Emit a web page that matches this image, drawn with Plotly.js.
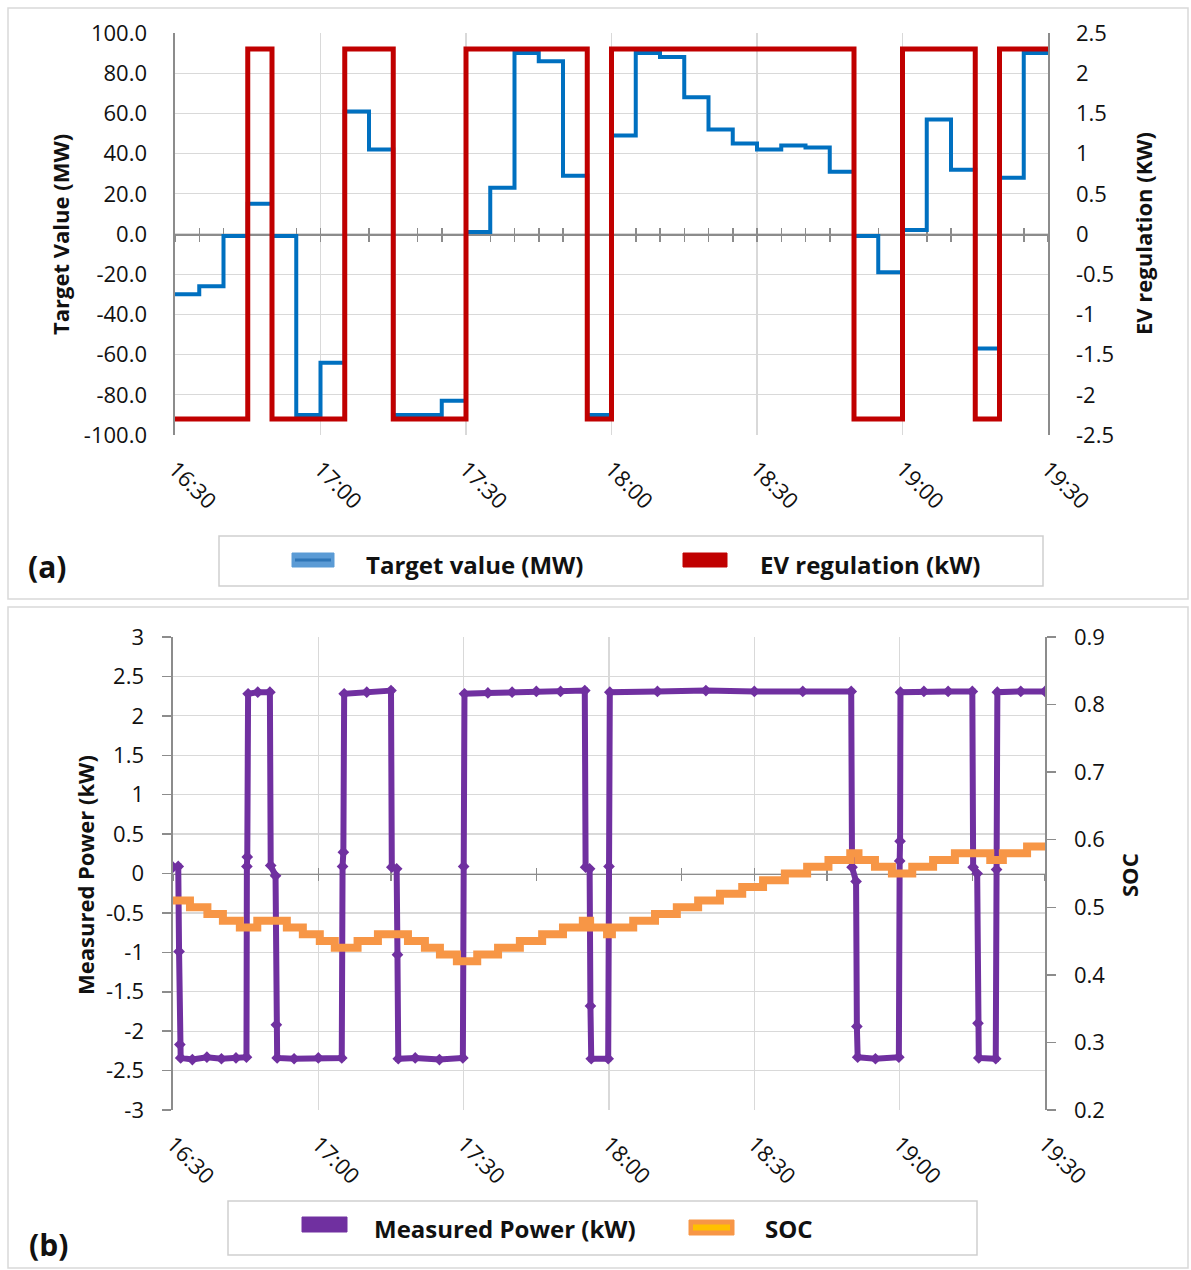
<!DOCTYPE html>
<html>
<head>
<meta charset="utf-8">
<script src="https://cdn.plot.ly/plotly-3.0.1.min.js"></script>
<style>
  html, body { margin: 0; padding: 0; background: #ffffff; }
  #chart { width: 1191px; height: 1270px; }
</style>
</head>
<body>
<div id="chart"></div>
<script>
// ---- Panel (a): 5-minute regulation intervals ----
const slotTimes = ["16:30","16:35","16:40","16:45","16:50","16:55","17:00","17:05","17:10","17:15","17:20","17:25",
                   "17:30","17:35","17:40","17:45","17:50","17:55","18:00","18:05","18:10","18:15","18:20","18:25",
                   "18:30","18:35","18:40","18:45","18:50","18:55","19:00","19:05","19:10","19:15","19:20","19:25"];
const targetMW = [-30, -26, -1, 15, -1, -90, -64, 61, 42, -90, -90, -83,
                  1, 23, 90, 86, 29, -90, 49, 90, 88, 68, 52, 45,
                  42, 44, 43, 31, -1, -19, 2, 57, 32, -57, 28, 90];
const evRegulationKW = [-2.3, -2.3, -2.3, 2.3, -2.3, -2.3, -2.3, 2.3, 2.3, -2.3, -2.3, -2.3,
                        2.3, 2.3, 2.3, 2.3, 2.3, -2.3, 2.3, 2.3, 2.3, 2.3, 2.3, 2.3,
                        2.3, 2.3, 2.3, 2.3, -2.3, -2.3, 2.3, 2.3, 2.3, -2.3, 2.3, 2.3];
const endTime = "19:30";

// ---- Panel (b): measured charger power ----
const mpTimes = ["16:30:00","16:31:05","16:31:15","16:31:25","16:31:35",
                 "16:34:00","16:37:00","16:40:00","16:43:00","16:45:10",
                 "16:45:15","16:45:20","16:45:30",
                 "16:47:30","16:50:00",
                 "16:50:10","16:51:10","16:51:20","16:51:30",
                 "16:55:00","17:00:00","17:04:50",
                 "17:05:00","17:05:10","17:05:20",
                 "17:10:00","17:15:00",
                 "17:15:10","17:16:10","17:16:20","17:16:30",
                 "17:20:00","17:25:00","17:29:50",
                 "17:30:00","17:30:10",
                 "17:35:00","17:40:00","17:45:00","17:50:00","17:55:00",
                 "17:55:10","17:56:00","17:56:10","17:56:20",
                 "17:59:50",
                 "18:00:00","18:00:10",
                 "18:10:00","18:20:00","18:30:00","18:40:00","18:50:00",
                 "18:50:10","18:51:00","18:51:10","18:51:20",
                 "18:55:00","18:59:50",
                 "19:00:00","19:00:05","19:00:10",
                 "19:05:00","19:10:00","19:15:00",
                 "19:15:10","19:16:00","19:16:10","19:16:20",
                 "19:19:50",
                 "19:20:00","19:20:10",
                 "19:25:00","19:30:00"];
const mpKW = [0.08, 0.09, -0.99, -2.17, -2.34,
              -2.36, -2.33, -2.35, -2.34, -2.33,
              0.09, 0.21, 2.28,
              2.30, 2.30,
              0.10, -0.03, -1.92, -2.34,
              -2.35, -2.34, -2.34,
              0.09, 0.27, 2.28,
              2.30, 2.32,
              0.08, 0.06, -1.03, -2.35,
              -2.34, -2.36, -2.34,
              0.09, 2.28,
              2.29, 2.30, 2.31, 2.31, 2.32,
              0.08, 0.06, -1.68, -2.35,
              -2.35,
              0.09, 2.30,
              2.31, 2.32, 2.31, 2.31, 2.31,
              0.08, -0.10, -1.94, -2.33,
              -2.35, -2.33,
              0.16, 0.41, 2.30,
              2.31, 2.31, 2.31,
              0.08, 0.00, -1.90, -2.34,
              -2.35,
              0.05, 2.30,
              2.31, 2.31];

// ---- Panel (b): battery state of charge (value holds until next time) ----
const socTimes = ["16:30:00","16:33:30","16:37:06","16:40:18","16:43:48","16:47:24","16:53:30","16:56:48","17:00:18",
                  "17:03:24","17:08:06","17:12:18","17:18:30","17:22:00","17:25:06","17:28:36","17:32:48","17:37:06",
                  "17:41:36","17:46:12","17:50:30","17:54:36","17:56:06","17:59:36","18:00:36","18:05:00","18:09:30",
                  "18:14:00","18:18:24","18:22:54","18:27:30","18:31:48","18:36:18","18:40:54","18:45:18","18:49:48",
                  "18:51:30","18:54:54","18:58:24","19:02:36","19:06:54","19:11:24","19:18:42","19:21:18","19:26:18"];
const socValues = [0.51, 0.50, 0.49, 0.48, 0.47, 0.48, 0.47, 0.46, 0.45,
                   0.44, 0.45, 0.46, 0.45, 0.44, 0.43, 0.42, 0.43, 0.44,
                   0.45, 0.46, 0.47, 0.48, 0.47, 0.46, 0.47, 0.48, 0.49,
                   0.50, 0.51, 0.52, 0.53, 0.54, 0.55, 0.56, 0.57, 0.58,
                   0.57, 0.56, 0.55, 0.56, 0.57, 0.58, 0.57, 0.58, 0.59];

// ---- Axis tick labels ----
const timeTicks = ["16:30","17:00","17:30","18:00","18:30","19:00","19:30"];
const targetTicks = [-100, -80, -60, -40, -20, 0, 20, 40, 60, 80, 100];
const evTicks = [-2.5, -2, -1.5, -1, -0.5, 0, 0.5, 1, 1.5, 2, 2.5];
const powerTicks = [-3, -2.5, -2, -1.5, -1, -0.5, 0, 0.5, 1, 1.5, 2, 2.5, 3];
const socTicks = [0.2, 0.3, 0.4, 0.5, 0.6, 0.7, 0.8, 0.9];

// ---- helpers ----
const W = 1191, H = 1270;
const px = v => v / W;
const py = v => 1 - v / H;
const day = t => "2000-01-01 " + (t.length === 5 ? t + ":00" : t);
const FONT = "Open Sans, Noto Sans, Arial, sans-serif";
const GRID = "#d9d9d9";
const AXIS = "#8c8c8c";
const TXT = "#111111";

const timeRange = [day(timeTicks[0]), day(timeTicks[timeTicks.length - 1])];

// step series end at the right edge of the last interval
const stepX = slotTimes.concat([endTime]).map(day);
const stepY = arr => arr.concat([arr[arr.length - 1]]);
const socX = socTimes.concat([endTime]).map(day);

const traces = [
  { x: stepX, y: stepY(targetMW), xaxis: "x", yaxis: "y", type: "scatter", mode: "lines",
    line: { shape: "hv", color: "#0070c0", width: 4 }, name: "Target value (MW)", hoverinfo: "skip" },
  { x: stepX, y: stepY(evRegulationKW), xaxis: "x", yaxis: "y2", type: "scatter", mode: "lines",
    line: { shape: "hv", color: "#c00000", width: 5 }, name: "EV regulation (kW)", hoverinfo: "skip" },
  { x: mpTimes.map(day), y: mpKW, xaxis: "x2", yaxis: "y3", type: "scatter", mode: "lines+markers",
    line: { color: "#7030a0", width: 6 }, marker: { symbol: "diamond", size: 9, color: "#7030a0" },
    name: "Measured Power (kW)", hoverinfo: "skip" },
  { x: socX, y: stepY(socValues), xaxis: "x2", yaxis: "y4", type: "scatter", mode: "lines",
    line: { shape: "hv", color: "#f79646", width: 8 }, name: "SOC", hoverinfo: "skip" },
  // carriers for the tick-marked zero lines
  { x: [], y: [], xaxis: "x3", yaxis: "y", hoverinfo: "skip" },
  { x: [], y: [], xaxis: "x4", yaxis: "y", hoverinfo: "skip" },
  { x: [], y: [], xaxis: "x5", yaxis: "y3", hoverinfo: "skip" },
  { x: [], y: [], xaxis: "x6", yaxis: "y3", hoverinfo: "skip" }
];

const tickFont = { family: FONT, size: 22, color: TXT };

function timeAxis(domain, anchor) {
  return {
    type: "date", domain: domain, anchor: anchor, range: timeRange,
    tickmode: "array", tickvals: timeTicks.map(day), ticktext: timeTicks,
    tickangle: 45, tickfont: tickFont, ticklabelstandoff: 16,
    showgrid: true, gridcolor: GRID, gridwidth: 1.3,
    showline: false, ticks: "", zeroline: false, fixedrange: true
  };
}
function valueAxis(domain, anchor, range, vals, fmt, extra) {
  return Object.assign({
    domain: domain, anchor: anchor, range: range,
    tickmode: "array", tickvals: vals, ticktext: vals.map(fmt), tickfont: tickFont,
    showgrid: true, gridcolor: GRID, gridwidth: 1.3,
    showline: true, linecolor: AXIS, linewidth: 1.6,
    zeroline: false, fixedrange: true
  }, extra);
}
function zeroAxis(over, pos, stepMin, dir) {
  return {
    type: "date", overlaying: over, anchor: "free", position: pos, range: timeRange,
    tickmode: "linear", tick0: day(timeTicks[0]), dtick: stepMin * 60000,
    ticks: dir, ticklen: 6, tickwidth: 1.5, tickcolor: AXIS,
    showline: true, linecolor: AXIS, linewidth: 1.6,
    showticklabels: false, showgrid: false, zeroline: false,
    layer: "below traces", fixedrange: true
  };
}

const domXA = [px(175), px(1048)], domYA = [py(435), py(33)];
const domXB = [px(173), px(1045)], domYB = [py(1110), py(637)];

const layout = {
  width: W, height: H,
  margin: { l: 0, r: 0, t: 0, b: 0 },
  paper_bgcolor: "#ffffff", plot_bgcolor: "rgba(0,0,0,0)",
  showlegend: false,
  font: { family: FONT, color: TXT },
  xaxis: timeAxis(domXA, "y"),
  yaxis: valueAxis(domYA, "x", [-100, 100], targetTicks, v => v.toFixed(1),
                   { ticks: "", ticklabelstandoff: 22 }),
  yaxis2: valueAxis(domYA, "x", [-2.5, 2.5], evTicks, v => String(v),
                    { overlaying: "y", side: "right", showgrid: false, ticks: "", ticklabelstandoff: 22 }),
  xaxis3: zeroAxis("x", py(234), 5, "outside"),
  xaxis4: zeroAxis("x", py(234), 5, "inside"),

  xaxis2: timeAxis(domXB, "y3"),
  yaxis3: valueAxis(domYB, "x2", [-3, 3], powerTicks, v => String(v),
                    { ticks: "outside", ticklen: 9, tickwidth: 1.5, tickcolor: AXIS, ticklabelstandoff: 14 }),
  yaxis4: valueAxis(domYB, "x2", [0.2, 0.9], socTicks, v => v.toFixed(1),
                    { overlaying: "y3", side: "right", showgrid: false,
                      ticks: "outside", ticklen: 9, tickwidth: 1.5, tickcolor: AXIS, ticklabelstandoff: 14 }),
  xaxis5: zeroAxis("x2", py(873.5), 15, "outside"),
  xaxis6: zeroAxis("x2", py(873.5), 15, "inside"),

  shapes: [
    // panel frames
    { type: "rect", xref: "paper", yref: "paper", x0: px(8), x1: px(1188), y0: py(599), y1: py(8),
      line: { color: GRID, width: 1.5 }, layer: "below" },
    { type: "rect", xref: "paper", yref: "paper", x0: px(8), x1: px(1188), y0: py(1268), y1: py(607),
      line: { color: GRID, width: 1.5 }, layer: "below" },
    // legend boxes
    { type: "rect", xref: "paper", yref: "paper", x0: px(219), x1: px(1043), y0: py(586), y1: py(536),
      line: { color: "#cfcfcf", width: 1.5 } },
    { type: "rect", xref: "paper", yref: "paper", x0: px(228), x1: px(977), y0: py(1255), y1: py(1201),
      line: { color: "#cfcfcf", width: 1.5 } },
    // legend keys
    { type: "rect", xref: "paper", yref: "paper", x0: px(292), x1: px(334), y0: py(567), y1: py(553),
      fillcolor: "#5b9bd5", line: { color: "#5b9bd5", width: 1 } },
    { type: "line", xref: "paper", yref: "paper", x0: px(295), x1: px(331), y0: py(560), y1: py(560),
      line: { color: "#2e75b6", width: 3 } },
    { type: "rect", xref: "paper", yref: "paper", x0: px(683), x1: px(727), y0: py(567), y1: py(553),
      fillcolor: "#c00000", line: { color: "#c00000", width: 1 } },
    { type: "rect", xref: "paper", yref: "paper", x0: px(302), x1: px(347), y0: py(1232), y1: py(1217),
      fillcolor: "#7030a0", line: { color: "#7030a0", width: 1 } },
    { type: "rect", xref: "paper", yref: "paper", x0: px(689), x1: px(734), y0: py(1235), y1: py(1220),
      fillcolor: "#f79646", line: { color: "#f79646", width: 1 } },
    { type: "rect", xref: "paper", yref: "paper", x0: px(693), x1: px(730), y0: py(1230.5), y1: py(1224.5),
      fillcolor: "#ffc000", line: { width: 0 } }
  ],

  annotations: [
    { text: "<b>Target Value (MW)</b>", x: px(60), y: py(235), textangle: -90, font: { size: 22 } },
    { text: "<b>EV regulation (KW)</b>", x: px(1143), y: py(234), textangle: -90, font: { size: 22 } },
    { text: "<b>Measured Power (kW)</b>", x: px(85), y: py(875), textangle: -90, font: { size: 22 } },
    { text: "<b>SOC</b>", x: px(1129), y: py(875), textangle: -90, font: { size: 22 } },
    { text: "<b>(a)</b>", x: px(47), y: py(566), font: { size: 30 } },
    { text: "<b>(b)</b>", x: px(48), y: py(1244), font: { size: 30 } },
    { text: "<b>Target value (MW)</b>", x: px(364), y: py(564), xanchor: "left", font: { size: 24 } },
    { text: "<b>EV regulation (kW)</b>", x: px(758), y: py(564), xanchor: "left", font: { size: 24 } },
    { text: "<b>Measured Power (kW)</b>", x: px(372), y: py(1228), xanchor: "left", font: { size: 24 } },
    { text: "<b>SOC</b>", x: px(763), y: py(1228), xanchor: "left", font: { size: 24 } }
  ].map(a => Object.assign({ xref: "paper", yref: "paper", showarrow: false, yanchor: "middle",
                             xanchor: a.xanchor || "center" }, a, { font: Object.assign({ family: FONT, color: TXT }, a.font) }))
};

Plotly.newPlot("chart", traces, layout, { staticPlot: true, displayModeBar: false });
</script>
</body>
</html>
